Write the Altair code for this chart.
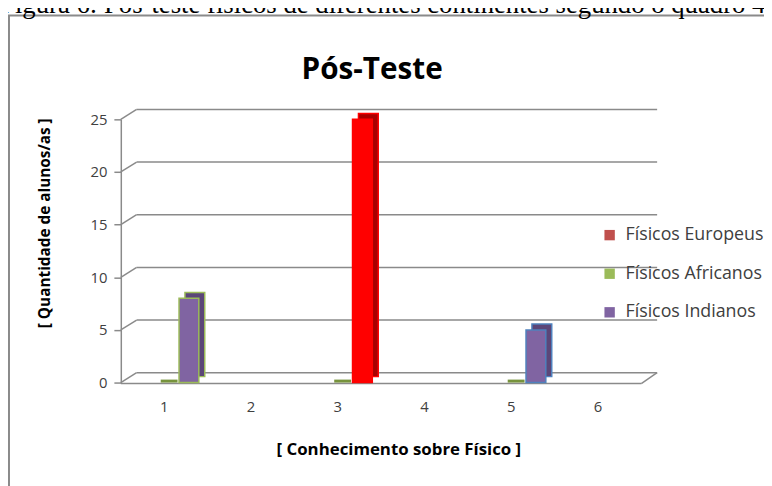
import altair as alt
import pandas as pd

categories = ["1", "2", "3", "4", "5", "6"]
series_names = ["Físicos Europeus", "Físicos Africanos", "Físicos Indianos"]
europeus = [None, None, 25, None, None, None]
africanos = [0, None, 0, None, 0, None]
indianos = [8, None, None, None, 5, None]
y_ticks = [0, 5, 10, 15, 20, 25]
legend_colors = ["#C0504D", "#9BBB59", "#8064A2"]

chart_title = "Pós-Teste"
y_title = "[ Quantidade de alunos/as ]"
x_title = "[ Conhecimento sobre Físico ]"
caption = "Figura 6: Pós-teste físicos de diferentes continentes segundo o quadro 4"

FONT = "Open Sans"
GRAY = "#8a8a8a"

rows = []
for name, vals in zip(series_names, [europeus, africanos, indianos]):
    for c, v in zip(categories, vals):
        if v is not None:
            rows.append({"cat": c, "series": name, "value": v})
df = pd.DataFrame(rows)
bars_df = df[df.series != "Físicos Africanos"]
flat_df = df[df.series == "Físicos Africanos"]
grid_df = pd.DataFrame({"v": y_ticks})
one = pd.DataFrame({"k": [0]})

W, H = 526, 266
DX, DY = 16, -10

xs = alt.Scale(domain=categories, paddingInner=0, paddingOuter=0)
ys = alt.Scale(domain=[0, 25], nice=False)

x_enc = alt.X("cat:N", scale=xs, sort=categories,
              axis=alt.Axis(domain=False, ticks=False, labelFontSize=15, labelColor="#404040",
                            labelFont=FONT, labelPadding=17, labelAngle=0, title=None))
y_axis = alt.Axis(values=y_ticks, domainColor=GRAY, domainWidth=1.5, tickColor=GRAY, tickWidth=1.5,
                  tickSize=7, labelFontSize=15, labelColor="#404040", labelFont=FONT,
                  labelPadding=7, grid=False, title=None)

frame = alt.Chart(one).mark_rect(fill="transparent", stroke="#8a8a8a", strokeWidth=2).encode(
    x=alt.value(-113), x2=alt.value(720), y=alt.value(-105), y2=alt.value(420))

cap = alt.Chart(one).mark_text(text=caption, font="Liberation Serif", fontSize=27, align="left",
                               baseline="alphabetic", color="#000000").encode(
    x=alt.value(-122), y=alt.value(-107))

back_grid = alt.Chart(grid_df).mark_rule(color=GRAY, strokeWidth=1.5, yOffset=DY).encode(
    y=alt.Y("v:Q", scale=ys, axis=y_axis), x=alt.value(DX), x2=alt.value(W + DX))

diag = alt.Chart(grid_df).mark_rule(color=GRAY, strokeWidth=1.5, y2Offset=DY).encode(
    y=alt.Y("v:Q", scale=ys), y2="v:Q", x=alt.value(0), x2=alt.value(DX))

floor_front = alt.Chart(one).mark_rule(color=GRAY, strokeWidth=1.5, yOffset=1).encode(
    y=alt.datum(0, scale=ys), x=alt.value(0), x2=alt.value(W))
floor_side = alt.Chart(one).mark_rule(color=GRAY, strokeWidth=1.5, yOffset=1, y2Offset=DY).encode(
    y=alt.datum(0, scale=ys), y2=alt.datum(0), x=alt.value(W), x2=alt.value(W + DX))

stroke_cond = {"condition": [{"test": "datum.cat == '1'", "value": "#9BBB59"},
                             {"test": "datum.cat == '5'", "value": "#4F81BD"}],
               "value": "#FF0000"}

bar_back = alt.Chart(bars_df).mark_bar(width=20, xOffset=25 + 6, yOffset=-6, y2Offset=-6,
                                       strokeWidth=1.5).encode(
    x=x_enc, y=alt.Y("value:Q", scale=ys),
    fill=alt.condition("datum.series == 'Físicos Europeus'", alt.value("#A80000"), alt.value("#5B4678")),
    stroke=stroke_cond)

bar_front = alt.Chart(bars_df).mark_bar(width=20, xOffset=25, strokeWidth=1.5).encode(
    x=x_enc, y=alt.Y("value:Q", scale=ys),
    fill=alt.condition(
        "datum.series == 'Físicos Europeus'", alt.value("#FF0000"),
        alt.Fill("series:N", scale=alt.Scale(domain=series_names, range=legend_colors),
                 legend=alt.Legend(orient="none", legendX=485, legendY=108, title=None,
                                   symbolType="square", symbolSize=110, symbolStrokeWidth=0,
                                   labelFontSize=18, labelFont=FONT, labelColor="#404040",
                                   rowPadding=21, labelOffset=7, padding=0))),
    stroke=stroke_cond)

flat = alt.Chart(flat_df).mark_bar(width=17, xOffset=5, yOffset=-3, color="#77933C").encode(
    x=x_enc, y=alt.Y("value:Q", scale=ys), y2="value:Q")

t_title = alt.Chart(one).mark_text(text=chart_title, font=FONT, fontSize=30, fontWeight="bold",
                                   color="#000000", baseline="middle").encode(
    x=alt.value(254), y=alt.value(-50))
t_x = alt.Chart(one).mark_text(text=x_title, font=FONT, fontSize=17, fontWeight="bold",
                               color="#000000", baseline="middle").encode(
    x=alt.value(281), y=alt.value(334))
t_y = alt.Chart(one).mark_text(text=y_title, font=FONT, fontSize=15.5, fontWeight="bold",
                               color="#000000", baseline="middle", angle=270).encode(
    x=alt.value(-77), y=alt.value(105))

chart = alt.layer(frame, cap, back_grid, diag, floor_front, floor_side, flat, bar_back, bar_front,
                  t_title, t_x, t_y).properties(
    width=W, height=H,
    background="white",
    autosize=alt.AutoSizeParams(type="none"),
    padding={"left": 114, "top": 110, "right": 124, "bottom": 102},
).configure_view(stroke=None)

chart.save("out.html", embed_options={"renderer": "svg", "actions": False})
